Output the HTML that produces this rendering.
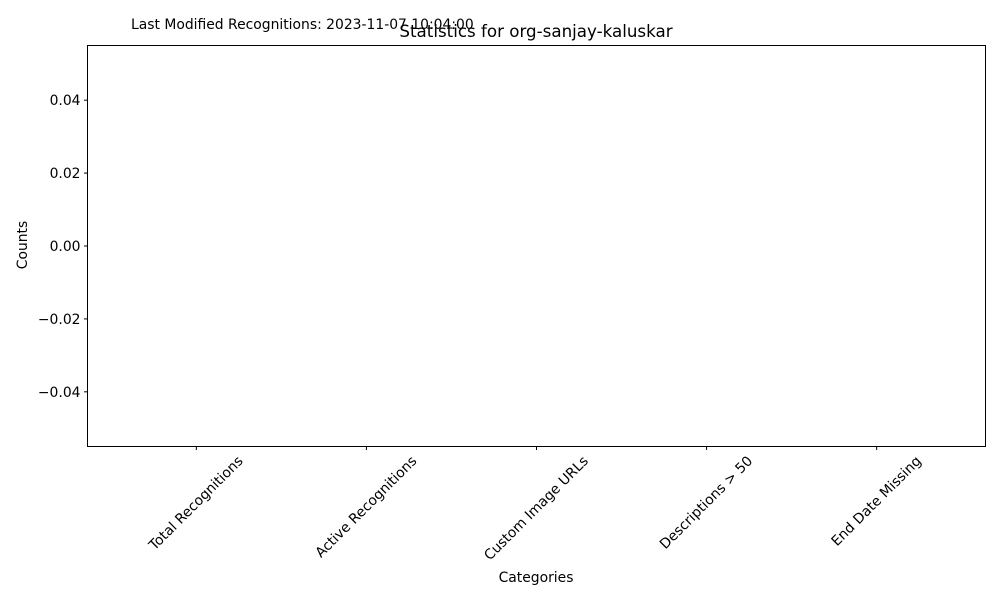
<!DOCTYPE html>
<html><head><meta charset="utf-8"><style>
html,body{margin:0;padding:0;background:#fff;}
svg{display:block;font-family:"DejaVu Sans","Liberation Sans",sans-serif;}
</style></head><body>
<svg id="chart" width="1000" height="600" viewBox="0 0 1000 600">
<rect width="1000" height="600" fill="#fff"/>
<text x="131" y="29" font-size="13.9" fill="#000">Last Modified Recognitions: 2023-11-07 10:04:00</text>
<text x="536" y="37" font-size="16.7" text-anchor="middle" fill="#000">Statistics for org-sanjay-kaluskar</text>
<g id="bars"></g>
<g id="yticks"></g>
<g id="xticks"></g>
<rect x="87.5" y="45.5" width="898" height="401" fill="none" stroke="#000" stroke-width="1"/>
<text x="0" y="0" transform="translate(27,245) rotate(-90)" font-size="13.9" text-anchor="middle" fill="#000">Counts</text>
<text x="536" y="582" font-size="13.9" text-anchor="middle" fill="#000">Categories</text>
</svg>
<script>
const categories = ["Total Recognitions","Active Recognitions","Custom Image URLs","Descriptions > 50","End Date Missing"];
const counts = [0,0,0,0,0];
const yTicks = [0.04,0.02,0.00,-0.02,-0.04];
const yTickLabels = ["0.04","0.02","0.00","\u22120.02","\u22120.04"];

const NS="http://www.w3.org/2000/svg";
const L=87.5,R=985.5,T=45.5,B=446.5;
const maxV=Math.max(...counts),minV=Math.min(...counts);
let y0,y1;
if(maxV===minV){y0=minV-0.055;y1=maxV+0.055;}else{const lo=Math.min(0,minV),hi=Math.max(0,maxV);const pad=(hi-lo)*0.05;y0=lo-(lo<0?pad:0);y1=hi+pad;}
const n=categories.length,x0=-0.64,x1=(n-1)+0.64;
const xs=v=>L+(v-x0)/(x1-x0)*(R-L);
const ys=v=>B-(v-y0)/(y1-y0)*(B-T);

const bars=document.getElementById('bars');
counts.forEach((c,i)=>{
  const r=document.createElementNS(NS,'rect');
  const top=Math.min(ys(c),ys(0)),h=Math.abs(ys(c)-ys(0));
  r.setAttribute('x',xs(i-0.4));r.setAttribute('width',xs(i+0.4)-xs(i-0.4));
  r.setAttribute('y',top);r.setAttribute('height',h);r.setAttribute('fill','#1f77b4');
  
  
  bars.appendChild(r);
});
const yg=document.getElementById('yticks');
yTicks.forEach((v,i)=>{
  const y=ys(v);
  const l=document.createElementNS(NS,'line');
  l.setAttribute('x1',L-3.5);l.setAttribute('x2',L);l.setAttribute('y1',y);l.setAttribute('y2',y);l.setAttribute('stroke','#000');
  
  
  yg.appendChild(l);
  const t=document.createElementNS(NS,'text');
  t.setAttribute('x',L-7);t.setAttribute('y',y+5);t.setAttribute('text-anchor','end');t.setAttribute('font-size','13.9');
  t.textContent=yTickLabels[i];
  
  
  yg.appendChild(t);
});
const xg=document.getElementById('xticks');
categories.forEach((c,i)=>{
  const x=xs(i);
  const l=document.createElementNS(NS,'line');
  l.setAttribute('x1',x);l.setAttribute('x2',x);l.setAttribute('y1',B);l.setAttribute('y2',B+3.5);l.setAttribute('stroke','#000');
  
  
  xg.appendChild(l);
  const t=document.createElementNS(NS,'text');
  t.setAttribute('font-size','13.9');t.setAttribute('text-anchor','middle');t.setAttribute('dominant-baseline','central');
  t.textContent=c;
  
  
  xg.appendChild(t);
  const len=t.getComputedTextLength();
  const h=(len+14)*0.7071;
  const cy=B+4+3.5+h/2;
  t.setAttribute('transform','translate('+x+','+cy+') rotate(-45)');
});
</script>
</body></html>
